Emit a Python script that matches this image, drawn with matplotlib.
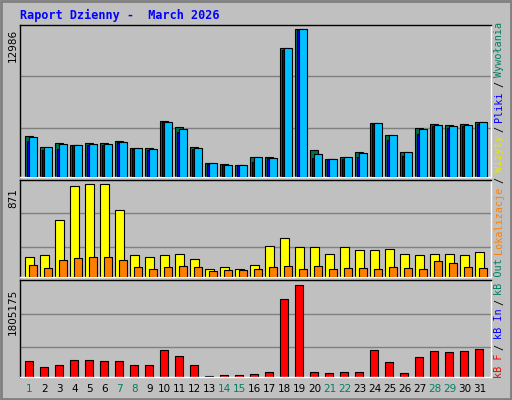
import matplotlib
matplotlib.use("Agg")
import matplotlib.pyplot as plt
import numpy as np

days = list(range(1, 32))
weekend = [1, 7, 8, 14, 15, 21, 22, 28, 29]
# pixel-read estimates converted to values
hits_px = [408,441,429,433,429,429,423,444,444,363,381,441,489,492,495,471,471,144,87,450,477,471,456,369,405,456,384,372,375,372,366]
files_px = [423,450,447,433,435,435,426,447,450,366,396,447,492,495,495,486,474,150,90,474,477,477,471,372,420,468,402,378,384,378,372]
pages_px = [411,441,432,433,432,430,424,444,447,364,387,444,489,495,495,471,474,144,87,462,477,471,459,369,405,456,387,375,378,375,366]
visits_px = [229,226,121,19,13,13,91,226,229,223,220,235,265,259,265,253,199,175,202,202,220,202,211,211,205,220,223,220,220,226,214]
sites_px = [253,262,238,232,229,229,238,259,265,259,256,259,271,268,268,265,259,256,265,256,265,262,262,265,259,262,265,241,247,259,262]
kb_px = [538,556,550,535,535,538,538,550,550,505,523,550,583,580,580,577,571,355,313,571,574,571,571,505,541,574,526,508,511,508,502]

hits = [round(12986*(530-p)/443) for p in hits_px]
files = [round(12986*(530-p)/443) for p in files_px]
pages = [round(12986*(530-p)/443) for p in pages_px]
visits = [round(871*(290-p)/278) for p in visits_px]
sites = [round(871*(290-p)/278) for p in sites_px]
kbytes = [round(1805175*(587-p)/274) for p in kb_px]

BG = "#c0c0c0"
W, H = 512, 400
fig = plt.figure(figsize=(W/100, H/100), dpi=100, facecolor=BG)
x = np.array(days, dtype=float)
slot = 15.0

def ax_px(x0, y0, x1, y1):
    a = fig.add_axes([x0/W, 1-y1/H, (x1-x0)/W, (y1-y0)/H])
    a.set_facecolor(BG)
    a.set_xlim(1-5/slot, 1-5/slot + (x1-x0)/slot)
    a.set_xticks([]); a.set_yticks([])
    for s in a.spines.values():
        s.set_color("black"); s.set_linewidth(1)
    a.spines["right"].set_color("white"); a.spines["bottom"].set_color("white")
    return a

def grid(a, top, fracs):
    for f in fracs:
        a.axhline(top*f, color="#808080", lw=1, zorder=0)

a1 = ax_px(20, 25, 491, 177)
top1 = max(hits)*455/443
a1.set_ylim(0, top1)
grid(a1, top1, [148/455, 302/455])
w = 8/slot
a1.bar(x, hits, width=w, align="edge", color="#007050", edgecolor="black", lw=0.8, zorder=2)
a1.bar(x+2/slot, files, width=w, align="edge", color="#0000ff", edgecolor="black", lw=0.8, zorder=3)
a1.bar(x+4/slot, pages, width=w, align="edge", color="#00c0ff", edgecolor="black", lw=0.8, zorder=4)

a2 = ax_px(20, 180, 491, 277)
top2 = max(visits)*290/278
a2.set_ylim(0, top2)
grid(a2, top2, [91/290, 190/290])
a2.bar(x, visits, width=9/slot, align="edge", color="#ffff00", edgecolor="black", lw=0.8, zorder=2)
a2.bar(x+4/slot, sites, width=8/slot, align="edge", color="#ff8000", edgecolor="black", lw=0.8, zorder=3)

a3 = ax_px(20, 280, 491, 377)
top3 = max(kbytes)*290/274
a3.set_ylim(0, top3)
grid(a3, top3, [89/290, 187/290])
a3.bar(x, kbytes, width=w, align="edge", color="#ff0000", edgecolor="black", lw=0.8, zorder=2)
a3.set_xticks(x+w/2+0.03)
a3.set_xticklabels([str(d) for d in days], fontsize=7.5)
a3.tick_params(length=0, pad=5)
for lab, d in zip(a3.get_xticklabels(), days):
    lab.set_color("#008060" if d in weekend else "black")

fig.text(20/W, 1-15/H, "Raport Dzienny -  March 2026", color="#0000ff",
         fontsize=8.5, fontweight="bold", family="DejaVu Sans Mono", va="center")
fig.text(13/W, 1-45/H, "12986", rotation=90, fontsize=7.5, ha="center", va="center")
fig.text(13/W, 1-198/H, "871", rotation=90, fontsize=7.5, ha="center", va="center")
fig.text(13/W, 1-312/H, "1805175", rotation=90, fontsize=7.5, ha="center", va="center")

parts = [("kB F", "#ff0000"), ("/", "black"), ("kB In", "#0000ff"), ("/", "black"),
         ("kB Out", "#008060"), ("Lokalizacje", "#ff8000"), ("/", "black"),
         ("Wizyty", "#e8e800"), ("/", "black"), ("Pliki", "#0000ff"), ("/", "black"),
         ("Wywołania", "#008060")]
renderer = fig.canvas.get_renderer()
ypix = 378.0
for t, c in parts:
    tx = fig.text(499/W, 1-ypix/H, t, rotation=90, color=c, fontsize=7.3,
                  family="DejaVu Sans Mono", ha="center", va="bottom")
    bb = tx.get_window_extent(renderer)
    ypix -= bb.height + 4

fig.patches.append(plt.Rectangle((1/W, 1/H), 1-2/W, 1-2/H, transform=fig.transFigure,
                                 fill=False, edgecolor="#808080", lw=2))
fig.savefig("out.png", dpi=100, facecolor=BG)
